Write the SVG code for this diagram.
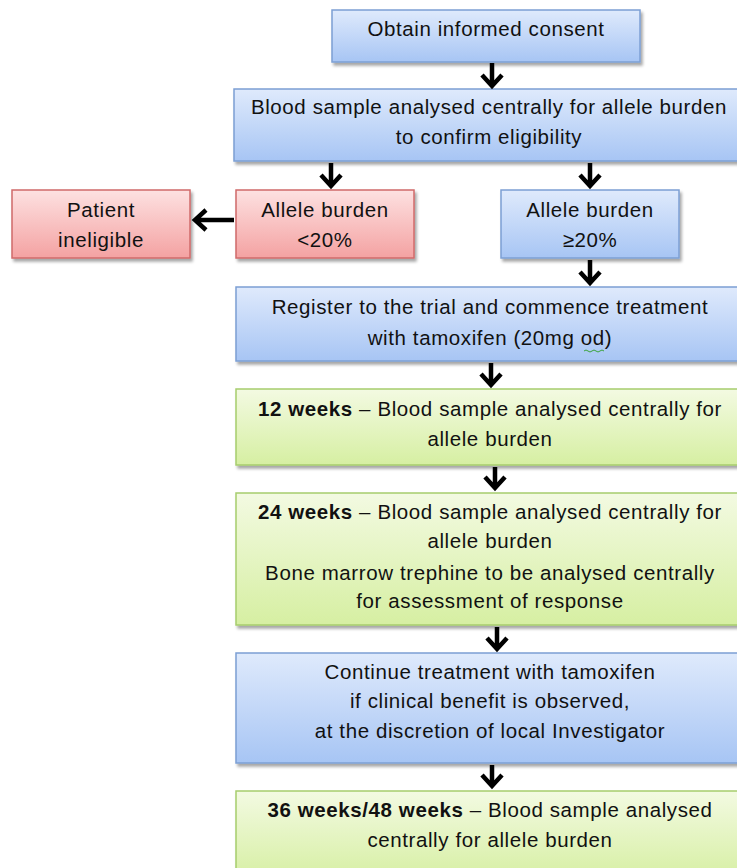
<svg xmlns="http://www.w3.org/2000/svg" width="737" height="868" viewBox="0 0 737 868">
<defs>
<linearGradient id="gBlue" x1="0" y1="0" x2="0" y2="1"><stop offset="0" stop-color="#dfeafc"/><stop offset="1" stop-color="#a7c5f4"/></linearGradient>
<linearGradient id="gRed" x1="0" y1="0" x2="0" y2="1"><stop offset="0" stop-color="#fde1e1"/><stop offset="1" stop-color="#f4a2a2"/></linearGradient>
<linearGradient id="gGreen" x1="0" y1="0" x2="0" y2="1"><stop offset="0" stop-color="#f3fae2"/><stop offset="1" stop-color="#d6efa2"/></linearGradient>
<filter id="sh" x="-5%" y="-5%" width="115%" height="125%"><feDropShadow dx="2" dy="3" stdDeviation="1.5" flood-color="#000" flood-opacity="0.35"/></filter>
</defs>
<style>
.blue{fill:url(#gBlue);stroke:#7c9fd4;stroke-width:1.5;filter:url(#sh)}
.red{fill:url(#gRed);stroke:#d06a6a;stroke-width:1.5;filter:url(#sh)}
.green{fill:url(#gGreen);stroke:#a7cd6c;stroke-width:1.5;filter:url(#sh)}
text{font-family:"Liberation Sans",Arial,sans-serif;font-size:20.5px;letter-spacing:0.6px;fill:#111;text-anchor:middle}
.b{font-weight:bold}
.arr{fill:none;stroke:#000;stroke-width:4.5;stroke-linejoin:miter}
</style>
<rect width="737" height="868" fill="#fff"/>
<g id="n1"><rect class="blue" x="332" y="10" width="308" height="52"/><text x="486" y="36">Obtain informed consent</text></g>
<g id="n2"><rect class="blue" x="234" y="89" width="512" height="72"/><text x="489" y="114">Blood sample analysed centrally for allele burden</text><text x="489" y="144">to confirm eligibility</text></g>
<g id="n3"><rect class="red" x="236" y="190" width="178" height="68"/><text x="325" y="217">Allele burden</text><text x="325" y="247">&lt;20%</text></g>
<g id="n4"><rect class="red" x="12" y="190" width="178" height="68"/><text x="101" y="217">Patient</text><text x="101" y="247">ineligible</text></g>
<g id="n5"><rect class="blue" x="501" y="190" width="178" height="68"/><text x="590" y="217">Allele burden</text><text x="590" y="247">≥20%</text></g>
<g id="n6"><rect class="blue" x="236" y="287" width="510" height="74"/><text x="490" y="314">Register to the trial and commence treatment</text><text x="490" y="345">with tamoxifen (20mg od)</text><path d="M584,351 q2,-2 4,0 t4,0 t4,0 t4,0 t4,0" fill="none" stroke="#3aa33a" stroke-width="1"/></g>
<g id="n7"><rect class="green" x="236" y="389" width="510" height="76"/><text x="490" y="416"><tspan class="b">12 weeks</tspan> – Blood sample analysed centrally for</text><text x="490" y="446">allele burden</text></g>
<g id="n8"><rect class="green" x="236" y="493" width="510" height="132"/><text x="490" y="519"><tspan class="b">24 weeks</tspan> – Blood sample analysed centrally for</text><text x="490" y="548">allele burden</text><text x="490" y="580">Bone marrow trephine to be analysed centrally</text><text x="490" y="608">for assessment of response</text></g>
<g id="n9"><rect class="blue" x="236" y="653" width="510" height="110"/><text x="490" y="679">Continue treatment with tamoxifen</text><text x="490" y="708">if clinical benefit is observed,</text><text x="490" y="738">at the discretion of local Investigator</text></g>
<g id="n10"><rect class="green" x="236" y="791" width="510" height="90"/><text x="490" y="817"><tspan class="b">36 weeks/48 weeks</tspan> – Blood sample analysed</text><text x="490" y="847">centrally for allele burden</text></g>
<g id="connectors">
<path class="arr" d="M492,63 V86 M482,75 L492,86 L502,75"/>
<path class="arr" d="M331,163 V186 M321,175 L331,186 L341,175"/>
<path class="arr" d="M590,163 V186 M580,175 L590,186 L600,175"/>
<path class="arr" d="M234,220 H195 M206,210 L195,220 L206,230"/>
<path class="arr" d="M590,260 V283 M580,272 L590,283 L600,272"/>
<path class="arr" d="M491,363 V385 M481,374 L491,385 L501,374"/>
<path class="arr" d="M495,467 V488 M485,477 L495,488 L505,477"/>
<path class="arr" d="M497,627 V649 M487,638 L497,649 L507,638"/>
<path class="arr" d="M492,765 V786 M482,775 L492,786 L502,775"/>
</g>
</svg>
